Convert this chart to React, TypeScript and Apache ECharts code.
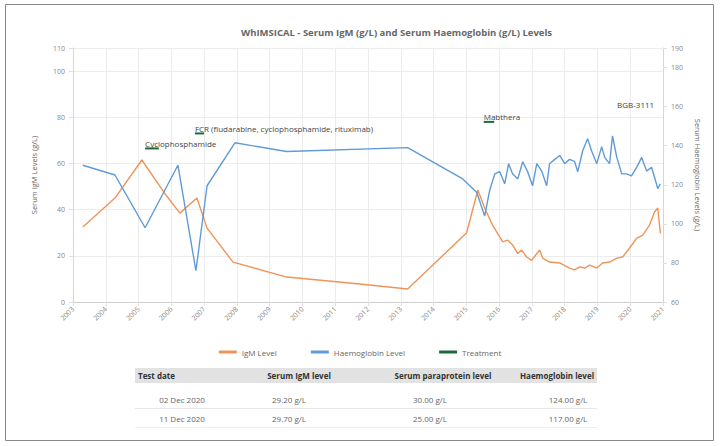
import React, { useEffect, useRef } from "react";
import * as echarts from "echarts";

// ---- Data ----
const xTickYears = [2003, 2021]; // axis extent, ticks every year

const igmYears = [2003.30, 2004.28, 2005.10, 2005.80, 2006.26, 2006.78, 2007.09, 2007.88, 2009.52, 2011.75, 2013.21, 2015.01, 2015.35, 2015.56, 2015.80, 2016.11, 2016.26, 2016.41, 2016.57, 2016.69, 2016.84, 2016.99, 2017.15, 2017.24, 2017.33, 2017.54, 2017.85, 2018.15, 2018.30, 2018.46, 2018.61, 2018.76, 2018.98, 2019.16, 2019.37, 2019.59, 2019.77, 2019.98, 2020.20, 2020.38, 2020.59, 2020.74, 2020.84, 2020.92];
const igmValues = [32.5, 45, 61.5, 47, 38.5, 45, 32, 17.3, 10.8, 7.8, 5.6, 30, 48.5, 40.7, 33.3, 26, 26.8, 24.7, 21, 22.5, 19.5, 18, 21, 22.5, 19, 17.3, 16.9, 14.7, 13.9, 15.2, 14.7, 16, 14.7, 16.9, 17.3, 19, 19.5, 23.4, 27.7, 29, 33.3, 39, 40.7, 29.7];

const hbYears = [2003.30, 2004.28, 2005.20, 2006.20, 2006.75, 2007.09, 2007.94, 2009.52, 2013.21, 2014.89, 2015.32, 2015.56, 2015.71, 2015.87, 2016.02, 2016.17, 2016.29, 2016.41, 2016.57, 2016.72, 2016.87, 2017.02, 2017.15, 2017.30, 2017.45, 2017.54, 2017.70, 2017.85, 2018.00, 2018.15, 2018.30, 2018.40, 2018.55, 2018.70, 2018.82, 2018.98, 2019.13, 2019.22, 2019.37, 2019.46, 2019.59, 2019.74, 2019.89, 2020.04, 2020.20, 2020.35, 2020.50, 2020.65, 2020.74, 2020.84, 2020.92];
const hbValues = [130, 125, 98, 130, 76, 119.5, 141.5, 137, 139, 123, 116, 104, 117, 125.6, 126.7, 120.5, 130.8, 125.6, 123, 131.8, 126.7, 119.5, 130.8, 127, 119.5, 130.8, 133, 135, 130.8, 133, 132, 126.7, 137.4, 143.6, 137.4, 130.8, 139.5, 134, 130.8, 145, 134, 125.6, 125.6, 124.6, 129, 134, 127, 129, 124, 118, 120.5];

const treatmentNames = ["Cyclophosphamide", "FCR (fludarabine, cyclophosphamide, rituximab)", "Mabthera", "BGB-3111"];
const treatmentStart = [2005.2, 2006.72, 2015.53, 2019.6];
const treatmentEnd = [2005.62, 2007.0, 2015.85, 2019.6];
const treatmentLevel = [66.5, 73, 78, 83.5];

const tableHeader = ["Test date", "Serum IgM level", "Serum paraprotein level", "Haemoglobin level"];
const tableRows = [
  ["02 Dec 2020", "29.20 g/L", "30.00 g/L", "124.00 g/L"],
  ["11 Dec 2020", "29.70 g/L", "25.00 g/L", "117.00 g/L"],
];

const FONT = "Open Sans";
const ORANGE = "#ef9459";
const BLUE = "#5f9bd6";
const GREEN = "#1b6b3a";

export default function App() {
  const ref = useRef<HTMLDivElement>(null);
  useEffect(() => {
    if (!ref.current) return;
    const chart = echarts.init(ref.current, undefined, { renderer: "svg" });

    const treatmentSeries = treatmentNames.map((name, i) => ({
      name: "Treatment",
      type: "line",
      yAxisIndex: 0,
      color: GREEN,
      symbol: "circle",
      symbolSize: 0,
      showSymbol: true,
      lineStyle: { width: 2, color: GREEN },
      data: [
        {
          value: [treatmentStart[i], treatmentLevel[i]],
          label: {
            show: true,
            position: "top",
            align: "left",
            distance: 1,
            formatter: name,
            fontSize: 8,
            color: "#444",
            fontFamily: FONT,
          },
        },
        { value: [treatmentEnd[i], treatmentLevel[i]] },
      ],
      z: 5,
    }));

    const colX = [138, 299, 443, 557];
    const cellX = [182, 289, 430, 568];
    const graphics: any[] = [
      { type: "rect", shape: { x: 5.5, y: 4.5, width: 708, height: 436 }, style: { fill: "none", stroke: "#888", lineWidth: 1 }, silent: true },
      { type: "rect", shape: { x: 135, y: 368, width: 462, height: 15 }, style: { fill: "#e2e2e2" } },
      { type: "line", shape: { x1: 135, y1: 408.5, x2: 597, y2: 408.5 }, style: { stroke: "#e6e6e6", lineWidth: 1 } },
      { type: "line", shape: { x1: 135, y1: 427.5, x2: 597, y2: 427.5 }, style: { stroke: "#eeeeee", lineWidth: 1 } },
    ];
    tableHeader.forEach((h, i) => {
      graphics.push({
        type: "text",
        x: colX[i],
        y: 375.5,
        style: {
          text: h,
          fontSize: 8,
          fontWeight: "bold",
          fontFamily: FONT,
          fill: "#333",
          align: i === 0 ? "left" : "center",
          verticalAlign: "middle",
        },
      });
    });
    tableRows.forEach((row, r) => {
      row.forEach((c, i) => {
        graphics.push({
          type: "text",
          x: cellX[i],
          y: 399 + r * 19,
          style: {
            text: c,
            fontSize: 8,
            fontFamily: FONT,
            fill: "#666",
            align: "center",
            verticalAlign: "middle",
          },
        });
      });
    });

    chart.setOption({
      animation: false,
      textStyle: { fontFamily: FONT },
      title: {
        text: "WhIMSICAL - Serum IgM (g/L) and Serum Haemoglobin (g/L) Levels",
        left: 236,
        top: 22,
        textStyle: { fontSize: 9.5, fontWeight: "bold", color: "#666", fontFamily: FONT },
      },
      legend: {
        data: ["IgM Level", "Haemoglobin Level", "Treatment"],
        top: 343,
        left: "center",
        icon: "rect",
        itemWidth: 18,
        itemHeight: 3,
        itemGap: 34,
        textStyle: { fontSize: 8, color: "#666", fontFamily: FONT },
      },
      grid: { left: 73, right: 57, top: 48, bottom: 144 },
      xAxis: {
        type: "value",
        min: xTickYears[0],
        max: xTickYears[1],
        interval: 1,
        axisLine: { show: true, lineStyle: { color: "#cfcfcf" } },
        axisTick: { show: true, length: 4, lineStyle: { color: "#e0e0e0" } },
        axisLabel: {
          rotate: 45,
          fontSize: 7,
          color: "#888",
          formatter: (v: number) => String(v),
          margin: 6,
        },
        splitLine: { show: true, lineStyle: { color: "#ececec" } },
      },
      yAxis: [
        {
          type: "value",
          min: 0,
          max: 110,
          interval: 20,
          name: "Serum IgM Levels (g/L)",
          nameLocation: "middle",
          nameGap: 35,
          nameTextStyle: { fontSize: 7.5, color: "#666" },
          axisLine: { show: true, lineStyle: { color: "#d6d6d6" } },
          axisTick: { show: true, length: 4, lineStyle: { color: "#e0e0e0" } },
          axisLabel: { fontSize: 7, color: "#888", margin: 8 },
          splitLine: { show: true, lineStyle: { color: "#ececec" } },
        },
        {
          type: "value",
          min: 60,
          max: 190,
          interval: 20,
          position: "right",
          name: "Serum Haemoglobin Levels (g/L)",
          nameLocation: "middle",
          nameGap: 30,
          nameRotate: -90,
          nameTextStyle: { fontSize: 7.5, color: "#666" },
          axisLine: { show: true, lineStyle: { color: "#d6d6d6" } },
          axisTick: { show: true, length: 4, lineStyle: { color: "#e0e0e0" } },
          axisLabel: { fontSize: 7, color: "#888", margin: 8 },
          splitLine: { show: false },
        },
      ],
      series: [
        {
          name: "IgM Level",
          type: "line",
          yAxisIndex: 0,
          color: ORANGE,
          showSymbol: false,
          lineStyle: { width: 1.4, color: ORANGE },
          data: igmYears.map((y, i) => [y, igmValues[i]]),
        },
        {
          name: "Haemoglobin Level",
          type: "line",
          yAxisIndex: 1,
          color: BLUE,
          showSymbol: false,
          lineStyle: { width: 1.4, color: BLUE },
          data: hbYears.map((y, i) => [y, hbValues[i]]),
        },
        ...treatmentSeries,
      ],
      graphic: graphics,
    });
    return () => chart.dispose();
  }, []);

  return (
    <div
      ref={ref}
      style={{ position: "absolute", left: 0, top: 0, width: 720, height: 446, background: "#fff" }}
    />
  );
}
